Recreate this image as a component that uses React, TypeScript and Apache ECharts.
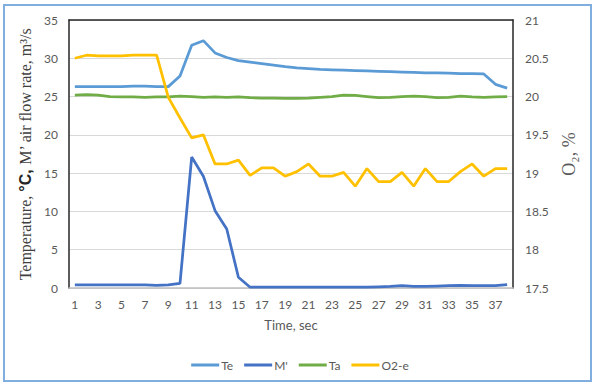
import React, { useEffect, useRef } from "react";
import * as echarts from "echarts";

const categories: string[] = Array.from({ length: 38 }, (_, i) => String(i + 1));

const teValues = [26.3, 26.3, 26.3, 26.3, 26.3, 26.35, 26.35, 26.3, 26.3, 27.7, 31.7, 32.3, 30.7, 30.1, 29.7, 29.5, 29.3, 29.1, 28.9, 28.75, 28.65, 28.55, 28.5, 28.45, 28.4, 28.35, 28.3, 28.25, 28.2, 28.15, 28.1, 28.1, 28.05, 28.0, 28.0, 27.95, 26.6, 26.1];
const mValues = [0.4, 0.4, 0.4, 0.4, 0.4, 0.4, 0.4, 0.35, 0.4, 0.6, 17.1, 14.6, 10.1, 7.7, 1.4, 0.1, 0.1, 0.1, 0.1, 0.1, 0.1, 0.1, 0.1, 0.1, 0.1, 0.1, 0.15, 0.2, 0.3, 0.2, 0.2, 0.25, 0.3, 0.35, 0.3, 0.3, 0.3, 0.45];
const taValues = [25.2, 25.25, 25.2, 25.0, 24.95, 24.95, 24.9, 24.95, 24.95, 25.05, 25.0, 24.9, 24.95, 24.9, 24.95, 24.85, 24.8, 24.8, 24.75, 24.75, 24.8, 24.9, 25.0, 25.2, 25.15, 25.0, 24.85, 24.9, 25.0, 25.05, 25.0, 24.85, 24.9, 25.05, 24.95, 24.9, 24.95, 25.0];
const o2Values = [20.5, 20.54, 20.53, 20.53, 20.53, 20.54, 20.54, 20.54, 19.99, 19.72, 19.46, 19.5, 19.12, 19.12, 19.17, 18.97, 19.07, 19.07, 18.96, 19.02, 19.12, 18.96, 18.96, 19.01, 18.83, 19.06, 18.89, 18.89, 19.01, 18.83, 19.06, 18.89, 18.89, 19.02, 19.12, 18.96, 19.06, 19.06];

const seriesNames = ["Te", "M'", "Ta", "O2-e"];
const seriesColors = ["#5B9BD5", "#4472C4", "#70AD47", "#FFC000"];

export default function App() {
  const ref = useRef<HTMLDivElement>(null);
  useEffect(() => {
    if (!ref.current) return;
    const chart = echarts.init(ref.current, null, { renderer: "svg" });
    const tickFont = { color: "#595959", fontSize: 12, fontFamily: "Lato, 'Liberation Sans', sans-serif" };
    const mk = (name: string, data: number[], color: string, yIdx: number) => ({
      name,
      type: "line",
      data,
      yAxisIndex: yIdx,
      xAxisIndex: 0,
      symbol: "none",
      lineStyle: { color, width: 2.75 },
      itemStyle: { color },
    });
    chart.setOption({
      animation: false,
      backgroundColor: "#ffffff",
      grid: { left: 69, right: 87, top: 20, bottom: 101 },
      graphic: [
        {
          type: "rect",
          shape: { x: 4, y: 5, width: 587, height: 376 },
          style: { fill: "none", stroke: "#7FAEDF", lineWidth: 2 },
          silent: true,
        },
      ],
      legend: {
        data: seriesNames,
        left: "center",
        top: 354,
        icon: "rect",
        itemWidth: 28,
        itemHeight: 3,
        itemGap: 11,
        textStyle: { ...tickFont, fontSize: 12, padding: [0, 0, 0, -3] },
      },
      xAxis: [
        {
          type: "category",
          data: categories,
          boundaryGap: true,
          axisLine: { show: true, lineStyle: { color: "#BFBFBF", width: 1.5 } },
          axisTick: { show: false },
          axisLabel: { ...tickFont, interval: 1, margin: 10 },
          name: "Time, sec",
          nameLocation: "middle",
          nameGap: 30,
          nameTextStyle: { ...tickFont, fontSize: 13, fontWeight: "normal" },
        },
        {
          type: "category",
          data: categories,
          position: "top",
          axisLine: { show: true, lineStyle: { color: "#262626", width: 1.5 } },
          axisTick: { show: false },
          axisLabel: { show: false },
          splitLine: { show: false },
        },
      ],
      yAxis: [
        {
          type: "value",
          min: 0,
          max: 35,
          interval: 5,
          axisLine: { show: true, lineStyle: { color: "#262626", width: 1.5 } },
          axisTick: { show: false },
          axisLabel: { ...tickFont, margin: 11 },
          splitLine: { show: true, lineStyle: { color: "#D9D9D9", width: 1 } },
          name: "Temperature, {b|°C,} M’ air flow rate, m³/s",
          nameLocation: "middle",
          nameRotate: 90,
          nameGap: 28,
          nameTextStyle: {
            fontFamily: "'Liberation Serif', 'DejaVu Serif', serif",
            fontSize: 16,
            color: "#404040",
            rich: {
              b: {
                fontFamily: "'Liberation Sans', sans-serif",
                fontSize: 16,
                fontWeight: "bold",
                color: "#262626",
              },
            },
          },
        },
        {
          type: "value",
          min: 17.5,
          max: 21,
          interval: 0.5,
          position: "right",
          axisLine: { show: true, lineStyle: { color: "#262626", width: 1.5 } },
          axisTick: { show: false },
          axisLabel: { ...tickFont, margin: 12 },
          splitLine: { show: false },
          name: "O₂, %",
          nameLocation: "middle",
          nameRotate: 90,
          nameGap: 41,
          nameTextStyle: {
            fontFamily: "'Liberation Serif', 'DejaVu Serif', serif",
            fontSize: 18,
            color: "#595959",
          },
        },
      ],
      series: [
        mk(seriesNames[0], teValues, seriesColors[0], 0),
        mk(seriesNames[1], mValues, seriesColors[1], 0),
        mk(seriesNames[2], taValues, seriesColors[2], 0),
        mk(seriesNames[3], o2Values, seriesColors[3], 1),
      ],
    });
    return () => chart.dispose();
  }, []);
  return (
    <div
      ref={ref}
      style={{ position: "fixed", left: 0, top: 0, width: 600, height: 389, background: "#fff" }}
    />
  );
}
